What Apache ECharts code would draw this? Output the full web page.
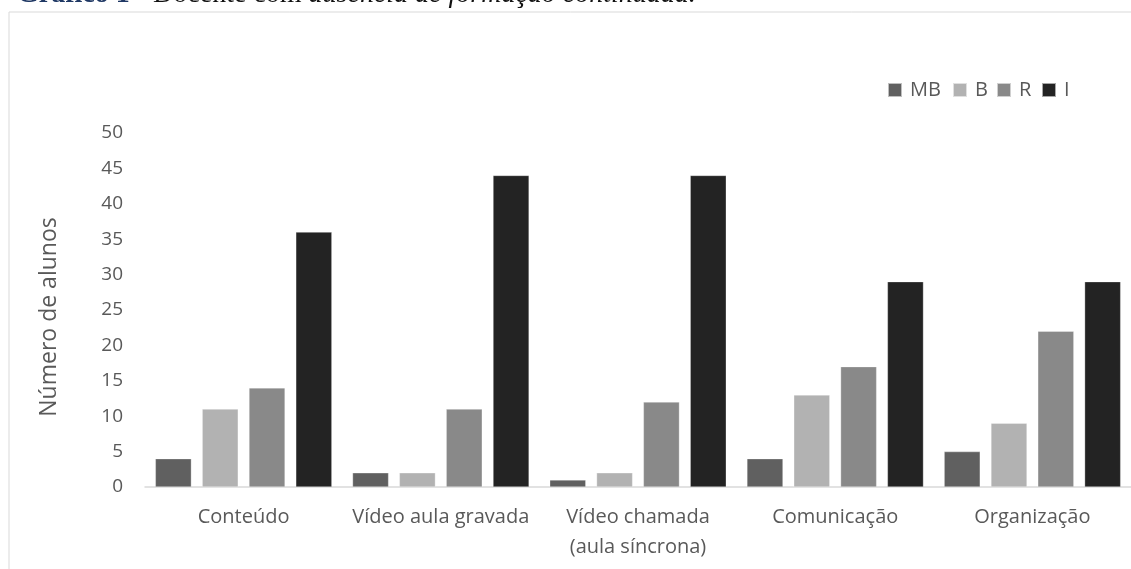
<!DOCTYPE html>
<html>
<head>
<meta charset="utf-8">
<script src="https://cdn.jsdelivr.net/npm/echarts@6/dist/echarts.min.js"></script>
<style>
html,body{margin:0;padding:0;background:#fff;}
#chart{width:1131px;height:569px;}
</style>
</head>
<body>
<div id="chart"></div>
<script>
const categories = ['Conteúdo', 'Vídeo aula gravada', 'Vídeo chamada\n(aula síncrona)', 'Comunicação', 'Organização'];
const seriesNames = ['MB', 'B', 'R', 'I'];
const valuesMB = [4, 2, 1, 4, 5];
const valuesB = [11, 2, 2, 13, 9];
const valuesR = [14, 11, 12, 17, 22];
const valuesI = [36, 44, 44, 29, 29];
const colors = ['#606060', '#b2b2b2', '#898989', '#232323'];
const yAxisName = 'Número de alunos';
const titleLabel = 'Gráfico 1';
const titleMid = ' - Docente com ';
const titleEnd = 'ausência de formação continuada.';

const chart = echarts.init(document.getElementById('chart'), null, {renderer: 'canvas'});
const data = [valuesMB, valuesB, valuesR, valuesI];
const font = 'Open Sans';
const legendLefts = [887, 952, 996, 1041];
chart.setOption({
  animation: false,
  backgroundColor: '#fff',
  graphic: [
    {type: 'rect', shape: {x: 9, y: 12, width: 1300, height: 1000}, style: {fill: 'none', stroke: '#d9d9d9', lineWidth: 1}, silent: true},
    {type: 'text', x: 17, y: -5, style: {
      text: '{a|' + titleLabel + '}{b|' + titleMid + '}{c|' + titleEnd + '}',
      textVerticalAlign: 'middle',
      rich: {
        a: {fontFamily: 'Liberation Serif', fontWeight: 'bold', fontSize: 28, fill: '#1f3864'},
        b: {fontFamily: 'Liberation Serif', fontSize: 28, fill: '#111'},
        c: {fontFamily: 'Liberation Serif', fontStyle: 'italic', fontSize: 28, fill: '#111'}
      }
    }},
    {type: 'text', x: 49, y: 317, rotation: Math.PI / 2, style: {
      text: yAxisName, fontFamily: font, fontSize: 23, fill: '#595959',
      textAlign: 'center', textVerticalAlign: 'middle'
    }}
  ],
  legend: seriesNames.map((n, i) => ({
    data: [n],
    left: legendLefts[i], top: 80, padding: 0,
    itemWidth: 14, itemHeight: 14,
    icon: 'rect',
    textStyle: {fontFamily: font, fontSize: 20, color: '#595959', padding: [0, 0, 0, 3]}
  })),
  grid: {left: 145, width: 988, top: 133, bottom: 82, containLabel: false},
  xAxis: {
    type: 'category',
    data: categories,
    axisLine: {lineStyle: {color: '#d9d9d9', width: 1.5}},
    axisTick: {show: false},
    axisLabel: {fontFamily: font, fontSize: 20, color: '#595959', margin: 15, lineHeight: 30, interval: 0}
  },
  yAxis: {
    type: 'value',
    min: 0, max: 50, interval: 5,
    axisLine: {show: false},
    axisTick: {show: false},
    splitLine: {show: false},
    axisLabel: {fontFamily: font, fontSize: 19, color: '#595959', margin: 22}
  },
  series: seriesNames.map((n, i) => ({
    name: n,
    type: 'bar',
    data: data[i],
    barGap: '30%',
    barCategoryGap: '10.5%',
    itemStyle: {color: colors[i], borderColor: 'rgba(255,255,255,0.6)', borderWidth: 0.5}
  }))
});
</script>
</body>
</html>
